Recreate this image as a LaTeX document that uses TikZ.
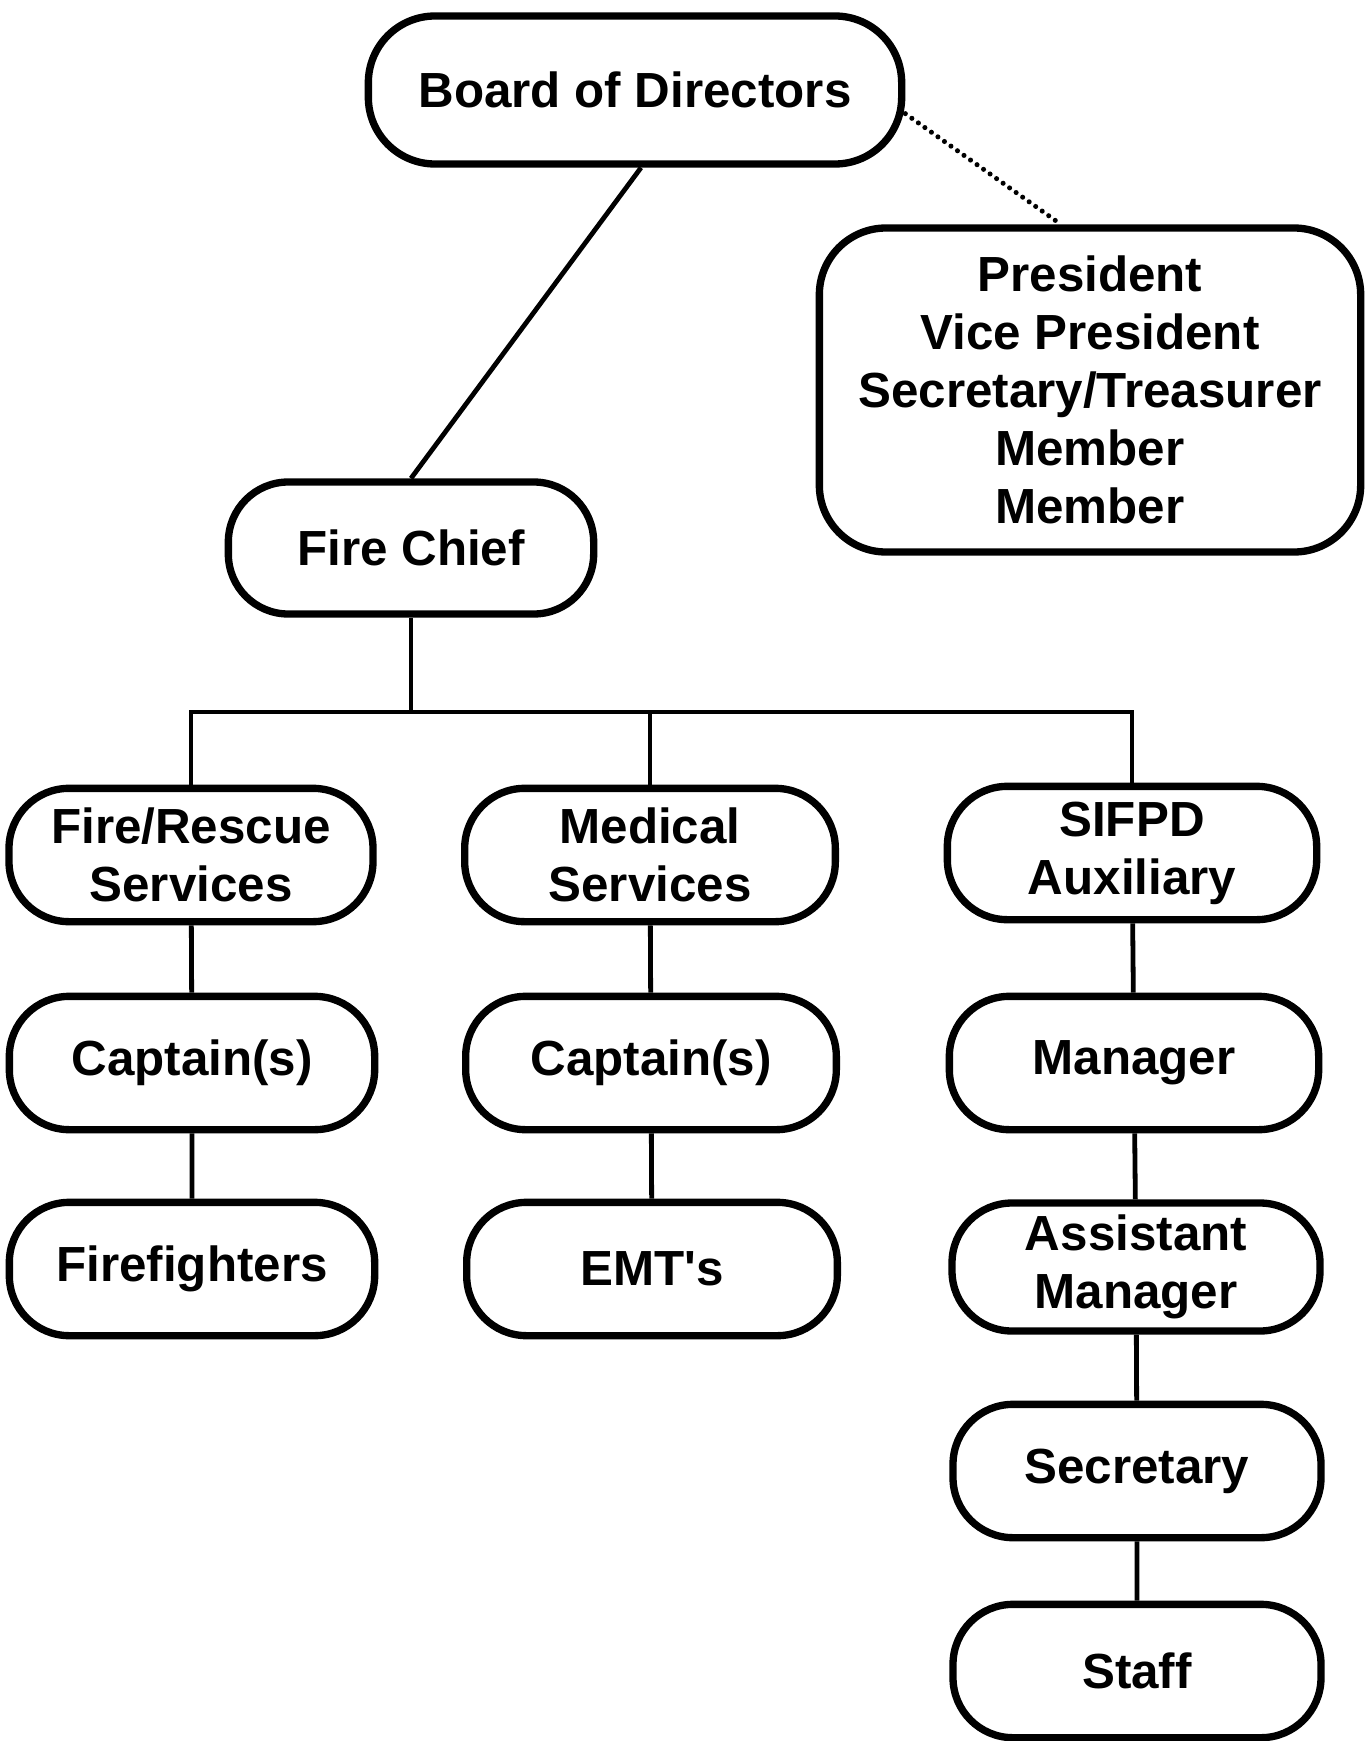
\documentclass[tikz,border=0pt]{standalone}
\usepackage{fontspec}
\setmainfont{Liberation Sans}
\tikzset{every picture/.style={line width=0.75pt}}
\tikzset{
  pill/.style={draw, line width=5.5pt, rounded corners=45pt, align=center,
    minimum width=276pt, minimum height=100pt, inner sep=0pt,
    font=\fontsize{37}{43.5}\selectfont\bfseries},
  link/.style={line width=3.6pt},
  dotlink/.style={line width=3.8pt, line cap=round, dash pattern=on 0pt off 6pt}
}

\begin{document}
\begin{tikzpicture}[x=0.75pt,y=0.75pt,yscale=-1,xscale=1]
\useasboundingbox (0,0) rectangle (1367,1741);

%Shape: Board and officers
\node [pill, minimum width=400pt, minimum height=111pt, rounded corners=50pt] (board) at (635,90) {Board of Directors};
\node [pill, minimum width=406pt, minimum height=243pt, rounded corners=50pt] (officers) at (1090,390) {President\\Vice President\\Secretary/Treasurer\\Member\\Member};
\node [pill, minimum width=274pt, minimum height=99pt] (chief) at (411,548) {Fire Chief};

%Shape: Fire/Rescue column
\node [pill, minimum width=273pt] (fr) at (191,855) {Fire/Rescue\\Services};
\node [pill, minimum width=274pt] (frcapt) at (192,1063) {Captain(s)};
\node [pill, minimum width=274pt] (ff) at (192,1269) {Firefighters};

%Shape: Medical column
\node [pill, minimum width=278pt] (med) at (650,855) {Medical\\Services};
\node [pill, minimum width=278pt] (medcapt) at (651,1063) {Captain(s)};
\node [pill, minimum width=278pt] (emt) at (652,1269) {EMT\textquotesingle s};

%Shape: Auxiliary column
\node [pill, minimum width=277pt] (aux) at (1132,853) {SIFPD\\Auxiliary};
\node [pill, minimum width=277pt] (mgr) at (1134,1063) {Manager};
\node [pill, minimum width=276pt, minimum height=96pt] (amgr) at (1136,1267) {Assistant\\Manager};
\node [pill, minimum width=276pt] (sec) at (1137,1471) {Secretary};
\node [pill, minimum width=276pt] (staff) at (1137,1671) {Staff};

%Straight Lines
\coordinate (bus) at (411,712);
\draw [link] (board.south) ++(6,0) -- (chief.north);
\draw [dotlink] (board.-5) -- (officers.100);
\draw [link] (chief.south) -- (bus);
\draw [link] (fr.north) -- (fr.north |- bus) -- (aux.north |- bus) -- (aux.north);
\draw [link] (med.north) -- (med.north |- bus);

%Straight Lines columns
\draw [link] (fr) -- (frcapt) -- (ff);
\draw [link] (med) -- (medcapt) -- (emt);
\draw [link] (aux) -- (mgr) -- (amgr) -- (sec) -- (staff);

\end{tikzpicture}
\end{document}
